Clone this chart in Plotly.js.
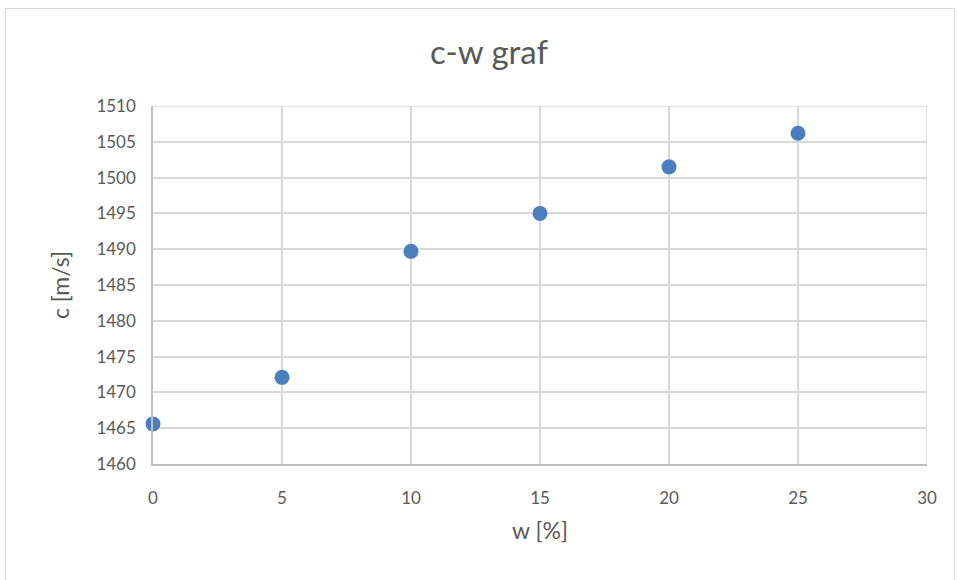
<!DOCTYPE html>
<html>
<head>
<meta charset="utf-8">
<script src="https://cdn.plot.ly/plotly-3.0.1.min.js"></script>
<style>
  html, body { margin: 0; padding: 0; background: #fff; }
  #frame { position: absolute; left: 5px; top: 8px; width: 950px; height: 600px; border: 1px solid #d9d9d9; box-sizing: border-box; }
  #chart { position: absolute; left: 0; top: 0; width: 957px; height: 580px; }
</style>
</head>
<body>
<div id="frame"></div>
<div id="chart"></div>
<script>
const wValues = [0, 5, 10, 15, 20, 25];
const cValues = [1465.6, 1472.1, 1489.7, 1495.0, 1501.5, 1506.2];
const xTicks = [0, 5, 10, 15, 20, 25, 30];
const yTicks = [1460, 1465, 1470, 1475, 1480, 1485, 1490, 1495, 1500, 1505, 1510];

const fontFam = 'Lato, "Open Sans", sans-serif';
const trace = {
  x: wValues, y: cValues, type: 'scatter', mode: 'markers',
  marker: { color: '#4a7ebf', size: 15 },
  cliponaxis: false,
  hoverinfo: 'x+y'
};
const layout = {
  width: 957, height: 580,
  margin: { l: 153, r: 30, t: 106, b: 116 },
  paper_bgcolor: 'rgba(0,0,0,0)', plot_bgcolor: 'rgba(0,0,0,0)',
  showlegend: false,
  font: { family: fontFam, color: '#595959', size: 16 },
  title: { text: 'c-w graf', font: { size: 33, color: '#595959', family: fontFam }, x: 0.511, xanchor: 'center', y: 0.91, yanchor: 'middle' },
  xaxis: {
    range: [0, 30], tickvals: xTicks, ticktext: xTicks.map(String),
    showgrid: true, gridcolor: '#d9d9d9', gridwidth: 1.5,
    showline: true, linecolor: '#bfbfbf', linewidth: 1.5,
    zeroline: false, ticks: '', ticklabelstandoff: 18,
    tickfont: { size: 17, color: '#595959' },
    title: { text: 'w [%]', font: { size: 23, color: '#595959' }, standoff: 16 }
  },
  yaxis: {
    range: [1460, 1510], tickvals: yTicks, ticktext: yTicks.map(String),
    showgrid: true, gridcolor: '#d9d9d9', gridwidth: 1.5,
    showline: true, linecolor: '#bfbfbf', linewidth: 1.5,
    zeroline: false, ticks: '', ticklabelstandoff: 12,
    tickfont: { size: 17, color: '#595959' },
    title: { text: 'c [m/s]', font: { size: 23, color: '#595959' }, standoff: 20 }
  },
  shapes: [
    { type: 'line', xref: 'x', yref: 'y', x0: 30, x1: 30, y0: 1460, y1: 1510, line: { color: '#d9d9d9', width: 1.5 }, layer: 'below' },
    { type: 'line', xref: 'x', yref: 'y', x0: 0, x1: 30, y0: 1510, y1: 1510, line: { color: '#d9d9d9', width: 1.5 }, layer: 'below' }
  ]
};
Plotly.newPlot('chart', [trace], layout, { displayModeBar: false, staticPlot: false });
</script>
</body>
</html>
